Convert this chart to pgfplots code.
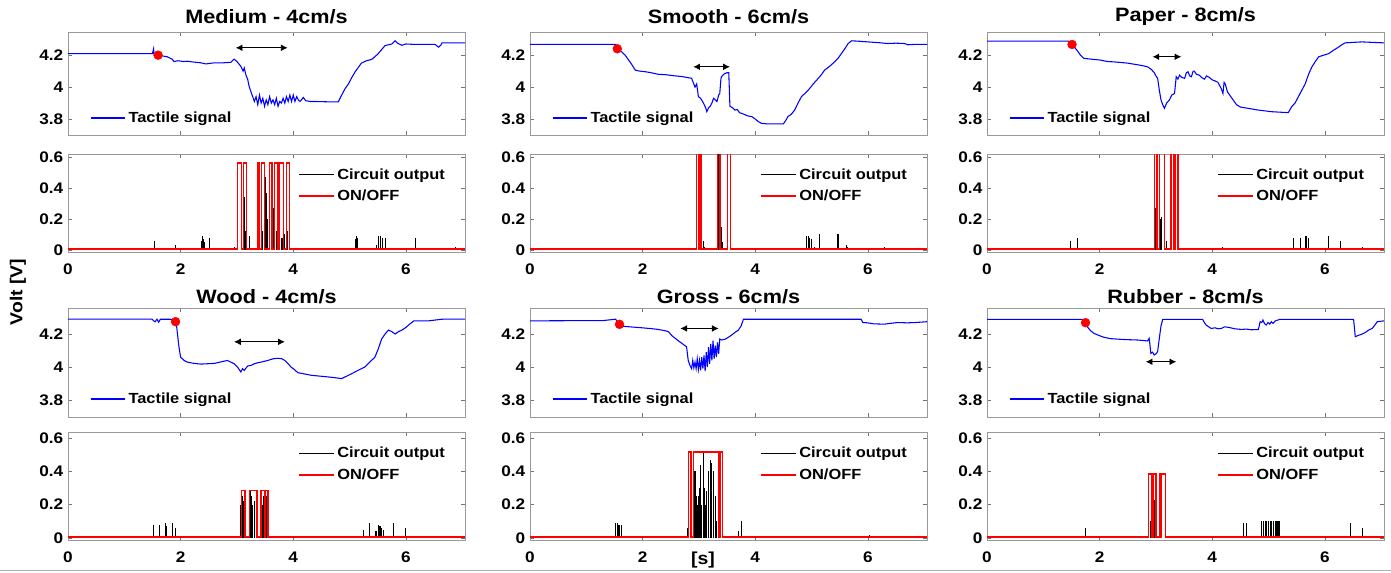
\documentclass[border=0pt]{standalone}
\usepackage{pgfplots}
\pgfplotsset{compat=1.18}
\usepackage{fontspec}
\setmainfont{Liberation Sans}[FakeStretch=1.12]
\usetikzlibrary{arrows.meta}

\pgfplotsset{
 mybase/.style={scale only axis, width=297.75pt, xmin=0, xmax=7.05, xtick={0,2,4,6},
   axis line style={draw=black!40}, every tick/.style={draw=black!55}, major tick length=3pt, tick align=inside,
   ticklabel style={font=\fontsize{11.5}{13}\selectfont\bfseries},
   xticklabel style={yshift=-5.5pt},
   /pgf/number format/assume math mode=true,
   legend cell align=left,
   legend image code/.code={\draw[##1] (0pt,0pt) -- (26pt,0pt);}},
 mytop/.style={mybase, xticklabels={}, ytick={3.8,4,4.2}, yticklabels={3.8,4,4.2},
   title style={font=\fontsize{14.5}{16}\selectfont\bfseries, at={(0.5,1)}, anchor=center, yshift=5.5pt},
   legend style={draw=none, fill=none, at={(0.045,0.165)}, anchor=west, font=\fontsize{11}{12}\selectfont\bfseries}},
 rowtwo/.style={title style={yshift=-3pt}},
 mybot/.style={mybase, xticklabels={0,2,4,6}, ytick={0,0.2,0.4,0.6}, yticklabels={0,0.2,0.4,0.6},
   legend style={draw=none, fill=none, at={(0.967,0.91)}, anchor=north east, row sep=2.5pt, font=\fontsize{11}{12}\selectfont\bfseries}},
 sig/.style={draw=blue, line width=0.8pt},
 dot/.style={only marks, mark=*, mark size=3.3pt, draw=red, fill=red, mark options={draw=red, fill=red}, forget plot},
 arr/.style={draw=black, fill=black, line width=0.6pt, {Latex[length=5pt,width=5pt]}-{Latex[length=5pt,width=5pt]}, forget plot},
 circ/.style={draw=black, ycomb, line width=0.8pt, forget plot},
 onoff/.style={draw=red, const plot, line width=1.1pt, forget plot},
}

\begin{document}
\begin{tikzpicture}
\path[use as bounding box] (0,0) rectangle (1043.25pt,-429pt);

% ---------------- Row 1 top ----------------
\begin{axis}[mytop, at={(51pt,-24pt)}, anchor=north west, height=77.25pt, ymin=3.7, ymax=4.345, title={Medium - 4cm/s}]
\addplot[sig] coordinates {(0,4.21) (1.50,4.21) (1.52,4.24) (1.53,4.20) (1.60,4.20) (1.76,4.19) (1.85,4.175) (1.88,4.16) (1.95,4.165) (2.05,4.16) (2.12,4.162) (2.2,4.158) (2.36,4.152) (2.45,4.145) (2.55,4.15) (2.6,4.152) (2.75,4.152) (2.89,4.155) (2.95,4.175) (3.0,4.16) (3.07,4.13) (3.11,4.1) (3.13,4.12) (3.16,4.075) (3.19,4.05) (3.22,4.0) (3.26,3.96) (3.31,3.91) (3.34,3.94) (3.37,3.89) (3.40,3.95) (3.43,3.90) (3.46,3.93) (3.49,3.88) (3.52,3.92) (3.55,3.89) (3.58,3.94) (3.61,3.90) (3.64,3.92) (3.67,3.89) (3.70,3.93) (3.73,3.88) (3.76,3.91) (3.79,3.90) (3.82,3.93) (3.85,3.90) (3.88,3.94) (3.91,3.91) (3.94,3.95) (3.97,3.91) (4.00,3.95) (4.03,3.91) (4.06,3.94) (4.09,3.92) (4.12,3.91) (4.18,3.935) (4.22,3.915) (4.3,3.91) (4.38,3.91) (4.6,3.908) (4.8,3.908) (4.86,3.95) (4.92,3.99) (4.98,4.02) (5.04,4.06) (5.1,4.096) (5.21,4.15) (5.3,4.165) (5.39,4.173) (5.45,4.19) (5.51,4.21) (5.57,4.235) (5.63,4.26) (5.69,4.265) (5.75,4.27) (5.81,4.29) (5.85,4.275) (5.93,4.262) (6.0,4.27) (6.17,4.267) (6.35,4.267) (6.52,4.267) (6.58,4.25) (6.62,4.262) (6.64,4.277) (6.85,4.277) (7.05,4.277)};
\addlegendentry{Tactile signal}
\addplot[dot] coordinates {(1.6,4.2)};
\addplot[arr] coordinates {(2.98,4.246) (3.90,4.246)};
\end{axis}

\begin{axis}[mytop, at={(397.5pt,-24pt)}, anchor=north west, height=77.25pt, ymin=3.7, ymax=4.345, title={Smooth - 6cm/s}]
\addplot[sig] coordinates {(0,4.267) (1.52,4.267) (1.55,4.24) (1.63,4.22) (1.69,4.2) (1.75,4.17) (1.81,4.14) (1.87,4.106) (1.95,4.1) (2.05,4.096) (2.15,4.09) (2.28,4.08) (2.4,4.078) (2.58,4.07) (2.7,4.066) (2.87,4.055) (2.93,4.0) (2.96,4.02) (2.99,3.94) (3.03,3.93) (3.08,3.9) (3.12,3.87) (3.14,3.846) (3.17,3.87) (3.2,3.88) (3.23,3.9) (3.26,3.93) (3.29,3.92) (3.32,3.91) (3.35,3.95) (3.37,3.96) (3.39,4.05) (3.4,4.065) (3.44,4.08) (3.46,4.085) (3.5,4.09) (3.53,4.09) (3.55,3.88) (3.6,3.87) (3.64,3.856) (3.68,3.86) (3.72,3.84) (3.76,3.835) (3.8,3.83) (3.86,3.82) (3.94,3.815) (4.0,3.8) (4.05,3.785) (4.11,3.773) (4.2,3.77) (4.29,3.77) (4.4,3.77) (4.5,3.77) (4.54,3.79) (4.58,3.815) (4.64,3.83) (4.7,3.856) (4.76,3.9) (4.82,3.94) (4.88,3.96) (4.94,3.98) (5.03,4.02) (5.12,4.055) (5.18,4.08) (5.23,4.106) (5.32,4.13) (5.41,4.158) (5.47,4.18) (5.53,4.21) (5.59,4.24) (5.65,4.273) (5.71,4.29) (5.85,4.287) (6.0,4.283) (6.2,4.278) (6.35,4.273) (6.5,4.275) (6.65,4.273) (6.71,4.265) (6.85,4.268) (7.05,4.267)};
\addlegendentry{Tactile signal}
\addplot[dot] coordinates {(1.55,4.24)};
\addplot[arr] coordinates {(2.9,4.127) (3.55,4.127)};
\end{axis}

\begin{axis}[mytop, at={(740.25pt,-24pt)}, anchor=north west, height=77.25pt, ymin=3.7, ymax=4.345, title={Paper - 8cm/s}]
\addplot[sig] coordinates {(0,4.2875) (1.45,4.2875) (1.51,4.267) (1.6,4.23) (1.66,4.2) (1.72,4.18) (1.9,4.173) (2.0,4.17) (2.14,4.16) (2.25,4.158) (2.38,4.154) (2.5,4.15) (2.67,4.14) (2.78,4.133) (2.85,4.127) (2.92,4.11) (2.97,4.09) (3.0,4.07) (3.03,4.055) (3.06,3.98) (3.09,3.92) (3.12,3.89) (3.15,3.867) (3.19,3.9) (3.24,3.92) (3.28,3.95) (3.33,3.96) (3.36,4.065) (3.39,4.05) (3.42,4.075) (3.46,4.06) (3.51,4.055) (3.54,4.09) (3.57,4.096) (3.6,4.07) (3.63,4.065) (3.66,4.1) (3.68,4.1) (3.72,4.08) (3.77,4.075) (3.81,4.06) (3.86,4.05) (3.9,4.07) (3.95,4.06) (4.0,4.045) (4.04,4.04) (4.1,4.03) (4.13,4.01) (4.16,3.99) (4.19,3.96) (4.21,4.03) (4.23,4.02) (4.27,3.97) (4.31,3.95) (4.37,3.92) (4.43,3.89) (4.5,3.875) (4.64,3.867) (4.8,3.857) (5.05,3.846) (5.2,3.843) (5.35,3.84) (5.41,3.877) (5.47,3.9) (5.53,3.94) (5.59,3.98) (5.65,4.02) (5.71,4.08) (5.77,4.127) (5.83,4.16) (5.89,4.19) (5.98,4.2) (6.07,4.21) (6.15,4.23) (6.24,4.25) (6.3,4.265) (6.36,4.277) (6.5,4.28) (6.66,4.283) (6.85,4.28) (7.05,4.277)};
\addlegendentry{Tactile signal}
\addplot[dot] coordinates {(1.51,4.267)};
\addplot[arr] coordinates {(2.94,4.19) (3.45,4.19)};
\end{axis}

% ---------------- Row 1 bottom ----------------
\begin{axis}[mybot, at={(51pt,-115.5pt)}, anchor=north west, height=73.5pt, ymin=-0.013, ymax=0.619]
\addplot[circ] coordinates {(1.54,0.06) (1.91,0.03) (2.37,0.06) (2.39,0.09) (2.41,0.07) (2.43,0.05) (2.52,0.08) (2.92,0.015) (2.95,0.02) (3.13,0.34) (3.15,0.12) (3.22,0.09) (3.40,0.08) (3.46,0.12) (3.49,0.25) (3.51,0.47) (3.53,0.37) (3.55,0.2) (3.58,0.1) (3.61,0.18) (3.65,0.27) (3.67,0.2) (3.70,0.12) (3.76,0.16) (3.80,0.08) (3.85,0.1) (3.9,0.12) (3.93,0.14) (5.10,0.07) (5.12,0.09) (5.14,0.08) (5.48,0.03) (5.52,0.09) (5.55,0.09) (5.58,0.08) (5.63,0.08) (6.17,0.08) (6.88,0.02)};
\addplot[onoff] coordinates {(0,0.005) (3.01,0.56) (3.08,0.005) (3.12,0.56) (3.17,0.005) (3.37,0.56) (3.40,0.005) (3.44,0.56) (3.49,0.005) (3.58,0.56) (3.62,0.005) (3.67,0.56) (3.73,0.005) (3.76,0.56) (3.83,0.005) (3.88,0.56) (3.93,0.005) (7.05,0.005)};
\addlegendimage{draw=black, line width=0.8pt}\addlegendentry{Circuit output}
\addlegendimage{draw=red, line width=1.1pt}\addlegendentry{ON/OFF}
\end{axis}

\begin{axis}[mybot, at={(397.5pt,-115.5pt)}, anchor=north west, height=73.5pt, ymin=-0.013, ymax=0.619]
\addplot[circ] coordinates {(1.7,0.005) (3.08,0.06) (3.1,0.02) (3.34,0.7) (3.36,0.45) (3.38,0.3) (3.40,0.15) (3.42,0.05) (4.91,0.09) (4.94,0.09) (4.97,0.08) (5.0,0.07) (5.06,0.02) (5.14,0.1) (5.47,0.1) (5.62,0.03) (5.64,0.02) (6.29,0.02)};
\addplot[onoff] coordinates {(0,0.005) (2.96,0.7) (2.99,0.005) (3.01,0.7) (3.04,0.005) (3.33,0.7) (3.37,0.005) (3.51,0.7) (3.56,0.005) (7.05,0.005)};
\addlegendimage{draw=black, line width=0.8pt}\addlegendentry{Circuit output}
\addlegendimage{draw=red, line width=1.1pt}\addlegendentry{ON/OFF}
\end{axis}

\begin{axis}[mybot, at={(740.25pt,-115.5pt)}, anchor=north west, height=73.5pt, ymin=-0.013, ymax=0.619]
\addplot[circ] coordinates {(1.48,0.06) (1.6,0.08) (3.0,0.27) (3.03,0.7) (3.06,0.42) (3.08,0.2) (3.1,0.21) (3.18,0.06) (3.28,0.05) (3.33,0.1) (4.19,0.02) (5.44,0.08) (5.56,0.08) (5.65,0.09) (5.68,0.09) (5.71,0.08) (5.85,0.01) (6.07,0.09) (6.27,0.06) (6.66,0.02)};
\addplot[onoff] coordinates {(0,0.005) (2.97,0.7) (3.02,0.005) (3.06,0.7) (3.15,0.005) (3.27,0.7) (3.31,0.005) (3.34,0.7) (3.39,0.005) (7.05,0.005)};
\addlegendimage{draw=black, line width=0.8pt}\addlegendentry{Circuit output}
\addlegendimage{draw=red, line width=1.1pt}\addlegendentry{ON/OFF}
\end{axis}

% ---------------- Row 2 top ----------------
\begin{axis}[mytop, rowtwo, at={(51pt,-231pt)}, anchor=north west, height=81.75pt, ymin=3.697, ymax=4.358, title={Wood - 4cm/s}]
\addplot[sig] coordinates {(0,4.291) (1.49,4.291) (1.52,4.28) (1.55,4.275) (1.58,4.29) (1.61,4.272) (1.64,4.29) (1.7,4.29) (1.82,4.29) (1.91,4.275) (1.93,4.244) (1.97,4.123) (2.0,4.06) (2.06,4.04) (2.12,4.03) (2.24,4.022) (2.36,4.018) (2.48,4.02) (2.6,4.022) (2.7,4.03) (2.83,4.04) (2.95,4.02) (3.01,4.0) (3.07,3.97) (3.1,3.99) (3.13,3.98) (3.19,4.006) (3.25,4.01) (3.31,4.02) (3.37,4.026) (3.43,4.03) (3.49,4.035) (3.55,4.04) (3.64,4.05) (3.73,4.053) (3.8,4.05) (3.85,4.04) (3.91,4.02) (3.96,4.0) (4.02,3.985) (4.08,3.966) (4.2,3.958) (4.32,3.95) (4.47,3.945) (4.62,3.94) (4.75,3.935) (4.86,3.93) (4.95,3.945) (5.04,3.96) (5.15,3.98) (5.27,4.0) (5.36,4.03) (5.45,4.06) (5.51,4.11) (5.57,4.17) (5.63,4.2) (5.69,4.224) (5.75,4.215) (5.81,4.2) (5.87,4.215) (5.93,4.224) (6.0,4.24) (6.05,4.255) (6.14,4.28) (6.4,4.28) (6.64,4.29) (7.05,4.291)};
\addlegendentry{Tactile signal}
\addplot[dot] coordinates {(1.91,4.275)};
\addplot[arr] coordinates {(2.95,4.153) (3.85,4.153)};
\end{axis}

\begin{axis}[mytop, rowtwo, at={(397.5pt,-231pt)}, anchor=north west, height=81.75pt, ymin=3.697, ymax=4.358, title={Gross - 6cm/s}]
\addplot[sig] coordinates {(0,4.28) (1.3,4.282) (1.52,4.29) (1.59,4.259) (1.63,4.248) (1.8,4.243) (1.99,4.238) (2.15,4.233) (2.28,4.228) (2.4,4.22) (2.46,4.214) (2.52,4.19) (2.58,4.174) (2.65,4.155) (2.7,4.143) (2.75,4.13) (2.78,4.123) (2.81,4.04) (2.84,4.01) (2.87,3.99) (2.89,4.04) (2.91,3.995) (2.93,4.03) (2.95,3.99) (2.97,4.05) (2.99,3.985) (3.01,4.04) (3.03,3.98) (3.05,4.06) (3.07,3.99) (3.09,4.07) (3.11,3.975) (3.13,4.09) (3.15,4.0) (3.17,4.12) (3.19,4.02) (3.21,4.14) (3.23,4.04) (3.25,4.16) (3.27,4.05) (3.29,4.13) (3.31,4.06) (3.33,4.15) (3.35,4.08) (3.37,4.17) (3.4,4.164) (3.46,4.168) (3.52,4.18) (3.58,4.194) (3.64,4.21) (3.7,4.224) (3.75,4.25) (3.79,4.29) (4.5,4.29) (5.2,4.29) (5.88,4.29) (5.91,4.27) (6.0,4.268) (6.1,4.262) (6.29,4.26) (6.4,4.265) (6.53,4.27) (6.7,4.268) (6.85,4.27) (7.05,4.275)};
\addlegendentry{Tactile signal}
\addplot[dot] coordinates {(1.59,4.259)};
\addplot[arr] coordinates {(2.67,4.234) (3.35,4.234)};
\end{axis}

\begin{axis}[mytop, rowtwo, at={(740.25pt,-231pt)}, anchor=north west, height=81.75pt, ymin=3.697, ymax=4.358, title={Rubber - 8cm/s}]
\addplot[sig] coordinates {(0,4.289) (1.69,4.289) (1.75,4.269) (1.78,4.244) (1.84,4.22) (1.9,4.204) (2.0,4.19) (2.08,4.18) (2.2,4.172) (2.38,4.168) (2.5,4.166) (2.67,4.164) (2.8,4.16) (2.85,4.158) (2.88,4.174) (2.91,4.083) (2.94,4.09) (2.97,4.073) (3.0,4.08) (3.03,4.093) (3.06,4.174) (3.09,4.25) (3.12,4.289) (3.5,4.289) (3.83,4.289) (3.86,4.27) (3.89,4.255) (3.98,4.234) (4.05,4.238) (4.1,4.232) (4.16,4.234) (4.22,4.244) (4.3,4.24) (4.4,4.232) (4.52,4.228) (4.6,4.23) (4.7,4.226) (4.82,4.228) (4.85,4.275) (4.88,4.27) (4.9,4.285) (4.93,4.262) (4.96,4.255) (4.99,4.27) (5.02,4.26) (5.05,4.275) (5.08,4.265) (5.12,4.28) (5.2,4.289) (6.0,4.289) (6.51,4.289) (6.54,4.184) (6.58,4.19) (6.62,4.195) (6.66,4.2) (6.72,4.21) (6.78,4.225) (6.84,4.234) (6.9,4.26) (6.93,4.275) (7.05,4.28)};
\addlegendentry{Tactile signal}
\addplot[dot] coordinates {(1.75,4.269)};
\addplot[arr] coordinates {(2.82,4.032) (3.36,4.032)};
\end{axis}

% ---------------- Row 2 bottom ----------------
\begin{axis}[mybot, at={(51pt,-324pt)}, anchor=north west, height=81pt, ymin=-0.012, ymax=0.636]
\addplot[circ] coordinates {(1.52,0.08) (1.63,0.08) (1.73,0.09) (1.75,0.07) (1.86,0.09) (1.91,0.06) (2.1,0.01) (3.07,0.2) (3.09,0.25) (3.11,0.22) (3.24,0.28) (3.26,0.25) (3.28,0.2) (3.31,0.22) (3.34,0.18) (3.36,0.08) (3.42,0.15) (3.45,0.2) (3.47,0.25) (3.49,0.28) (3.52,0.25) (3.54,0.1) (3.76,0.01) (5.24,0.05) (5.36,0.09) (5.47,0.04) (5.51,0.08) (5.54,0.07) (5.57,0.06) (5.60,0.05) (5.78,0.09) (5.99,0.06) (6.4,0.01)};
\addplot[onoff] coordinates {(0,0.005) (3.08,0.285) (3.14,0.005) (3.22,0.285) (3.36,0.005) (3.43,0.285) (3.49,0.005) (3.51,0.285) (3.55,0.005) (7.05,0.005)};
\addlegendimage{draw=black, line width=0.8pt}\addlegendentry{Circuit output}
\addlegendimage{draw=red, line width=1.1pt}\addlegendentry{ON/OFF}
\end{axis}

\begin{axis}[mybot, at={(397.5pt,-324pt)}, anchor=north west, height=81pt, ymin=-0.012, ymax=0.636]
\addplot[circ] coordinates {(1.52,0.09) (1.55,0.09) (1.58,0.08) (1.62,0.08) (2.8,0.06) (2.93,0.4) (2.95,0.25) (2.97,0.2) (2.99,0.25) (3.01,0.3) (3.03,0.44) (3.05,0.2) (3.08,0.51) (3.1,0.3) (3.12,0.2) (3.14,0.28) (3.17,0.4) (3.2,0.47) (3.23,0.45) (3.26,0.4) (3.29,0.25) (3.32,0.1) (3.7,0.04) (3.76,0.1) (6.03,0.02) (6.74,0.01)};
\addplot[onoff] coordinates {(0,0.005) (2.81,0.515) (2.86,0.005) (2.9,0.515) (3.35,0.005) (3.37,0.515) (3.42,0.005) (7.05,0.005)};
\addlegendimage{draw=black, line width=0.8pt}\addlegendentry{Circuit output}
\addlegendimage{draw=red, line width=1.1pt}\addlegendentry{ON/OFF}
\end{axis}

\begin{axis}[mybot, at={(740.25pt,-324pt)}, anchor=north west, height=81pt, ymin=-0.012, ymax=0.636]
\addplot[circ] coordinates {(1.75,0.06) (2.9,0.1) (2.94,0.22) (2.97,0.23) (3.08,0.38) (3.1,0.2) (4.05,0.01) (4.19,0.01) (4.55,0.09) (4.61,0.09) (4.67,0.01) (4.88,0.1) (4.91,0.1) (4.94,0.1) (4.97,0.1) (5.0,0.1) (5.03,0.1) (5.06,0.1) (5.09,0.1) (5.12,0.1) (5.15,0.1) (5.18,0.1) (5.2,0.1) (6.45,0.09) (6.66,0.06)};
\addplot[onoff] coordinates {(0,0.005) (2.87,0.385) (2.93,0.005) (2.95,0.385) (3.0,0.005) (3.06,0.385) (3.09,0.005) (3.1,0.385) (3.17,0.005) (7.05,0.005)};
\addlegendimage{draw=black, line width=0.8pt}\addlegendentry{Circuit output}
\addlegendimage{draw=red, line width=1.1pt}\addlegendentry{ON/OFF}
\end{axis}

\node[rotate=90, font=\fontsize{13}{15}\selectfont\bfseries] at (13.5pt,-219pt) {Volt [V]};
\node[font=\fontsize{13}{15}\selectfont\bfseries] at (527.25pt,-420pt) {[s]};
\draw[draw=black!30, line width=0.75pt] (0pt,-427.5pt) -- (1043.25pt,-427.5pt);
\end{tikzpicture}
\end{document}
